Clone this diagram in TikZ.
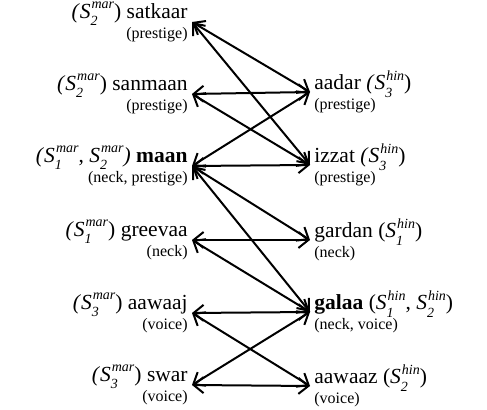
\documentclass[tikz,border=0pt]{standalone}
\usepackage{fontspec}
\setmainfont{Liberation Serif}
\usetikzlibrary{arrows.meta}

% senso con pedice e apice sovrapposti
\newcommand{\sn}[2]{\textit{S}\rlap{\raisebox{-0.33em}{\fontsize{7}{7}\selectfont\textit{#1}}}\kern0.5pt\raisebox{0.45em}{\fontsize{7}{7}\selectfont\textit{#2}}}
\newcommand{\gl}[1]{{\fontsize{8}{9}\selectfont #1}}

\begin{document}
\begin{tikzpicture}[x=0.5pt, y=-0.5pt,
  mar/.style={anchor=east, align=right, inner sep=2pt, font=\fontsize{10.75}{10}\selectfont},
  hin/.style={anchor=west, align=left, inner sep=2pt, font=\fontsize{10.75}{10}\selectfont},
  link/.style={{Straight Barb[length=5pt,width=8pt]}-{Straight Barb[length=5pt,width=8pt]}, line width=1pt}
    ]
    \useasboundingbox (0,0) rectangle (487,410);

    % Parole marathi
    \node[mar] (satkaar) at (192,22) {\textit{(}\sn{2}{mar}) satkaar\\ \gl{(prestige)}};
    \node[mar] (sanmaan) at (192,94) {\textit{(}\sn{2}{mar}) sanmaan\\ \gl{(prestige)}};
    \node[mar] (maan) at (192,166) {\textit{(}\sn{1}{mar}, \sn{2}{mar}\textit{)} \textbf{maan}\\ \gl{(neck, prestige)}};
    \node[mar] (greevaa) at (192,240) {\textit{(}\sn{1}{mar}) greevaa\\ \gl{(neck)}};
    \node[mar] (aawaaj) at (192,313) {\textit{(}\sn{3}{mar}) aawaaj\\ \gl{(voice)}};
    \node[mar] (swar) at (192,385) {\textit{(}\sn{3}{mar}) swar\\ \gl{(voice)}};

    % Parole hindi
    \node[hin] (aadar) at (310,92) {aadar \textit{(}\sn{3}{hin})\\ \gl{(prestige)}};
    \node[hin] (izzat) at (310,165) {izzat \textit{(}\sn{3}{hin})\\ \gl{(prestige)}};
    \node[hin] (gardan) at (310,240) {gardan (\sn{1}{hin})\\ \gl{(neck)}};
    \node[hin] (galaa) at (310,312) {\textbf{galaa} (\sn{1}{hin}, \sn{2}{hin})\\ \gl{(neck, voice)}};
    \node[hin] (aawaaz) at (310,386) {aawaaz (\sn{2}{hin})\\ \gl{(voice)}};

    % Collegamenti
    \draw[link] (satkaar.east) -- (aadar.west);
    \draw[link] (satkaar.east) -- (izzat.west);
    \draw[link] (sanmaan.east) -- (aadar.west);
    \draw[link] (sanmaan.east) -- (izzat.west);
    \draw[link] (maan.east) -- (aadar.west);
    \draw[link] (maan.east) -- (izzat.west);
    \draw[link] (maan.east) -- (gardan.west);
    \draw[link] (maan.east) -- (galaa.west);
    \draw[link] (greevaa.east) -- (gardan.west);
    \draw[link] (greevaa.east) -- (galaa.west);
    \draw[link] (aawaaj.east) -- (galaa.west);
    \draw[link] (aawaaj.east) -- (aawaaz.west);
    \draw[link] (swar.east) -- (galaa.west);
    \draw[link] (swar.east) -- (aawaaz.west);
\end{tikzpicture}
\end{document}
